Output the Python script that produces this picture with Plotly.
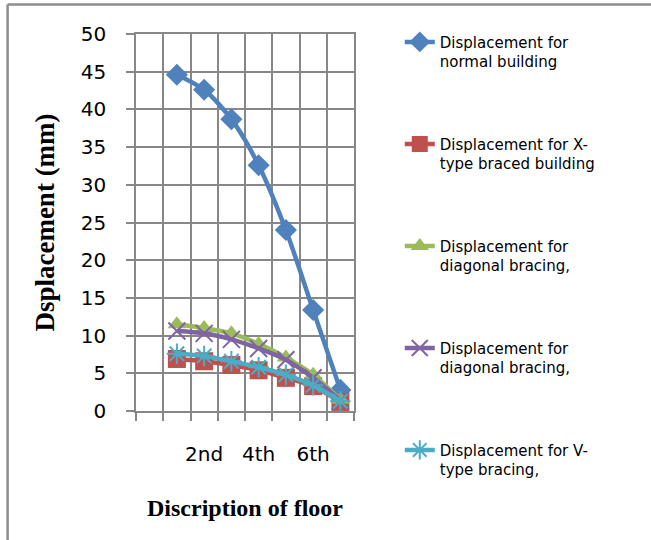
import plotly.graph_objects as go

# Floor numbers along the x axis and their names
floor_pos = [1, 2, 3, 4, 5, 6, 7]
floor_names = ["1st", "2nd", "3rd", "4th", "5th", "6th", "7th"]
labelled_floors = [2, 4, 6]

# Storey displacement (mm) for each building model
normal_building = [44.6, 42.6, 38.7, 32.6, 24.0, 13.4, 2.8]
x_braced = [6.9, 6.6, 6.1, 5.4, 4.4, 3.3, 1.2]
diagonal_a = [11.5, 11.0, 10.3, 8.9, 7.1, 4.8, 1.5]
diagonal_b = [10.6, 10.3, 9.5, 8.3, 6.8, 4.4, 1.4]
v_braced = [7.6, 7.3, 6.6, 5.8, 4.8, 3.4, 1.3]

series_names = [
    "Displacement for<br>normal building",
    "Displacement for X-<br>type braced building",
    "Displacement for<br>diagonal bracing,",
    "Displacement for<br>diagonal bracing,",
    "Displacement for V-<br>type bracing,",
]
series_values = [normal_building, x_braced, diagonal_a, diagonal_b, v_braced]
colors = ["#4F81BD", "#C0504D", "#9BBB59", "#8064A2", "#4BACC6"]
symbols = ["diamond", "square", "triangle-up", "x-thin", "asterisk"]
sizes = [17, 18, 16, 17, 17]

GRID = "#878787"
FRAME = "#8C8C8C"

fig = go.Figure()
for i, (name, vals) in enumerate(zip(series_names, series_values)):
    sym = symbols[i]
    thin = sym in ("x-thin", "asterisk")
    fig.add_trace(go.Scatter(
        x=floor_pos, y=vals, name=name, mode="lines+markers",
        legendgroup=f"g{i}",
        line=dict(color=colors[i], width=4.5, shape="spline", smoothing=0.8),
        marker=dict(symbol=sym, size=sizes[i], color=colors[i],
                    line=dict(color=colors[i], width=2 if thin else 0)),
    ))

fig.update_layout(
    width=651, height=540,
    margin=dict(l=136, r=297, t=34, b=129),
    paper_bgcolor="white", plot_bgcolor="white",
    font=dict(family="DejaVu Sans", color="#000000"),
    showlegend=True,
    legend=dict(
        x=1.21, xanchor="left", y=1.022, yanchor="top",
        font=dict(family="DejaVu Sans", size=15, color="#000000"),
        tracegroupgap=60, valign="top", itemwidth=30,
        bgcolor="rgba(0,0,0,0)", maxheight=540,
    ),
    xaxis=dict(
        range=[-0.5, 7.5], tickmode="array",
        tickvals=labelled_floors,
        ticktext=[floor_names[floor_pos.index(p)] for p in labelled_floors],
        showgrid=False, ticks="", zeroline=False,
        tickfont=dict(size=20, family="DejaVu Sans"),
        ticklabelstandoff=24,
        showline=True, linecolor=GRID, linewidth=1.5, mirror=True,
        minor=dict(tickmode="linear", tick0=0.5, dtick=1, showgrid=True,
                   gridcolor=GRID, gridwidth=1.5, ticks="outside", ticklen=8,
                   tickcolor=GRID, tickwidth=1.5),
        title=dict(text="<b>Discription of floor</b>", standoff=34,
                   font=dict(family="Liberation Serif", size=24)),
    ),
    yaxis=dict(
        range=[0, 50], tickmode="linear", tick0=0, dtick=5,
        showgrid=True, gridcolor=GRID, gridwidth=1.5, zeroline=False,
        ticks="outside", ticklen=8, tickcolor=GRID, tickwidth=1.5,
        tickfont=dict(size=20, family="DejaVu Sans"),
        ticklabelstandoff=16,
        showline=True, linecolor=GRID, linewidth=1.5, mirror=True,
        title=dict(text="<b>Dsplacement (mm)</b>", standoff=18,
                   font=dict(family="Liberation Serif", size=27)),
    ),
    shapes=[
        # outer chart frame (top and left edges fall inside the page)
        dict(type="line", xref="paper", yref="paper",
             x0=-0.589, x1=2.6, y0=1.078, y1=1.078,
             line=dict(color=FRAME, width=2.5), layer="above"),
        dict(type="line", xref="paper", yref="paper",
             x0=-0.589, x1=-0.589, y0=1.078, y1=-0.4,
             line=dict(color=FRAME, width=2.5), layer="above"),
    ],
)

fig.write_html("out.html")
